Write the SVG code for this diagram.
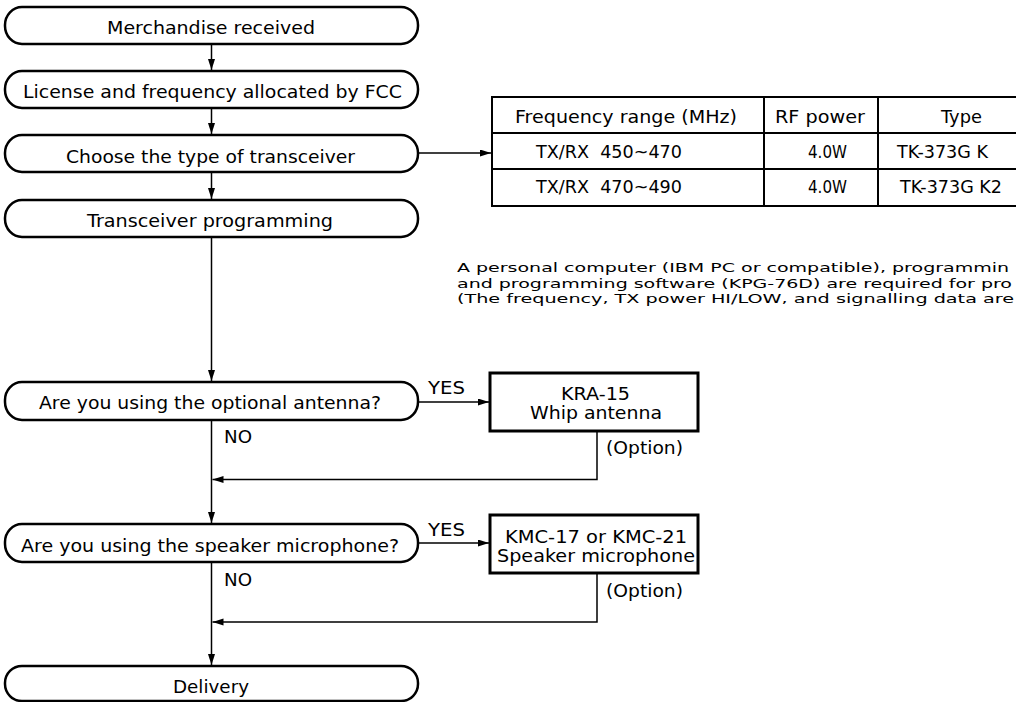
<svg xmlns="http://www.w3.org/2000/svg" width="1016" height="702" viewBox="0 0 1016 702">
<style>
.box{fill:#fff;stroke:#000;stroke-width:2.5}
.obox{fill:#fff;stroke:#000;stroke-width:3}
.tbl{fill:none;stroke:#000;stroke-width:2}
.ln{fill:none;stroke:#000;stroke-width:1.5}
.t{font-family:"DejaVu Sans",sans-serif;font-size:17.5px;fill:#000}
.p{font-family:"DejaVu Sans",sans-serif;font-size:13px;fill:#000}
</style>
<defs>
<marker id="ah" markerUnits="userSpaceOnUse" markerWidth="12" markerHeight="8" refX="11" refY="3.5" orient="auto">
<path d="M0,0 L11,3.5 L0,7 z" fill="#000"/>
</marker>
</defs>
<rect width="1016" height="702" fill="#fff"/>
<g id="connectors">
<path class="ln" d="M211.5,44 V70" marker-end="url(#ah)"/>
<path class="ln" d="M211.5,108 V134" marker-end="url(#ah)"/>
<path class="ln" d="M211.5,172 V199" marker-end="url(#ah)"/>
<path class="ln" d="M211.5,237 V381" marker-end="url(#ah)"/>
<path class="ln" d="M211.5,420 V523" marker-end="url(#ah)"/>
<path class="ln" d="M211.5,562 V665" marker-end="url(#ah)"/>
<path class="ln" d="M418,153 H491" marker-end="url(#ah)"/>
<path class="ln" d="M418,402 H489" marker-end="url(#ah)"/>
<path class="ln" d="M418,543 H489" marker-end="url(#ah)"/>
<path class="ln" d="M597,431 V479.5 H212.5" marker-end="url(#ah)"/>
<path class="ln" d="M597,573 V622 H212.5" marker-end="url(#ah)"/>
</g>
<g id="n-merchandise">
<rect class="box" x="5" y="7" width="413" height="37" rx="17" ry="18"/>
<text class="t" x="107" y="34" textLength="208" lengthAdjust="spacingAndGlyphs">Merchandise received</text>
</g>
<g id="n-license">
<rect class="box" x="5" y="71" width="413" height="37" rx="17" ry="18"/>
<text class="t" x="23" y="98" textLength="379" lengthAdjust="spacingAndGlyphs">License and frequency allocated by FCC</text>
</g>
<g id="n-choose">
<rect class="box" x="5" y="135" width="413" height="37" rx="17" ry="18"/>
<text class="t" x="66" y="163" textLength="289" lengthAdjust="spacingAndGlyphs">Choose the type of transceiver</text>
</g>
<g id="n-programming">
<rect class="box" x="5" y="200" width="413" height="37" rx="17" ry="18"/>
<text class="t" x="87" y="227" textLength="246" lengthAdjust="spacingAndGlyphs">Transceiver programming</text>
</g>
<g id="n-table">
<rect class="tbl" x="492" y="97" width="540" height="109"/>
<path class="tbl" d="M492,133 H1032 M492,169 H1032 M764,97 V206 M878,97 V206"/>
<text class="t" x="515" y="123" textLength="222" lengthAdjust="spacingAndGlyphs">Frequency range (MHz)</text>
<text class="t" x="775" y="123" textLength="90" lengthAdjust="spacingAndGlyphs">RF power</text>
<text class="t" x="941" y="123" textLength="41" lengthAdjust="spacingAndGlyphs">Type</text>
<text class="t" x="536" y="158" textLength="146" lengthAdjust="spacingAndGlyphs">TX/RX&#160; 450~470</text>
<text class="t" x="808" y="158" textLength="39" lengthAdjust="spacingAndGlyphs">4.0W</text>
<text class="t" x="897" y="158" textLength="91" lengthAdjust="spacingAndGlyphs">TK-373G K</text>
<text class="t" x="536" y="193" textLength="146" lengthAdjust="spacingAndGlyphs">TX/RX&#160; 470~490</text>
<text class="t" x="808" y="193" textLength="39" lengthAdjust="spacingAndGlyphs">4.0W</text>
<text class="t" x="900" y="193" textLength="102" lengthAdjust="spacingAndGlyphs">TK-373G K2</text>
</g>
<g id="n-note">
<text class="p" x="457" y="272" textLength="552" lengthAdjust="spacingAndGlyphs">A personal computer (IBM PC or compatible), programmin</text>
<text class="p" x="457" y="287.5" textLength="555" lengthAdjust="spacingAndGlyphs">and programming software (KPG-76D) are required for pro</text>
<text class="p" x="457" y="303" textLength="557" lengthAdjust="spacingAndGlyphs">(The frequency, TX power HI/LOW, and signalling data are</text>
</g>
<g id="n-q-antenna">
<rect class="box" x="5" y="382" width="413" height="38" rx="17" ry="18"/>
<text class="t" x="39" y="409" textLength="342" lengthAdjust="spacingAndGlyphs">Are you using the optional antenna?</text>
</g>
<g id="n-kra15">
<rect class="obox" x="490" y="373" width="208" height="58"/>
<text class="t" x="561" y="400" textLength="69" lengthAdjust="spacingAndGlyphs">KRA-15</text>
<text class="t" x="530" y="419" textLength="132" lengthAdjust="spacingAndGlyphs">Whip antenna</text>
</g>
<g id="n-q-mic">
<rect class="box" x="5" y="524" width="413" height="38" rx="17" ry="18"/>
<text class="t" x="21" y="552" textLength="378" lengthAdjust="spacingAndGlyphs">Are you using the speaker microphone?</text>
</g>
<g id="n-kmc">
<rect class="obox" x="490" y="515" width="208" height="58"/>
<text class="t" x="505" y="543" textLength="182" lengthAdjust="spacingAndGlyphs">KMC-17 or KMC-21</text>
<text class="t" x="497" y="562" textLength="198" lengthAdjust="spacingAndGlyphs">Speaker microphone</text>
</g>
<g id="n-delivery">
<rect class="box" x="5" y="666" width="413" height="35" rx="17" ry="17"/>
<text class="t" x="173" y="693" textLength="76" lengthAdjust="spacingAndGlyphs">Delivery</text>
</g>
<g id="labels">
<text class="t" x="428" y="394" textLength="37" lengthAdjust="spacingAndGlyphs">YES</text>
<text class="t" x="224" y="443" textLength="28" lengthAdjust="spacingAndGlyphs">NO</text>
<text class="t" x="606" y="454" textLength="77" lengthAdjust="spacingAndGlyphs">(Option)</text>
<text class="t" x="428" y="536" textLength="37" lengthAdjust="spacingAndGlyphs">YES</text>
<text class="t" x="224" y="586" textLength="28" lengthAdjust="spacingAndGlyphs">NO</text>
<text class="t" x="606" y="597" textLength="77" lengthAdjust="spacingAndGlyphs">(Option)</text>
</g>
</svg>
